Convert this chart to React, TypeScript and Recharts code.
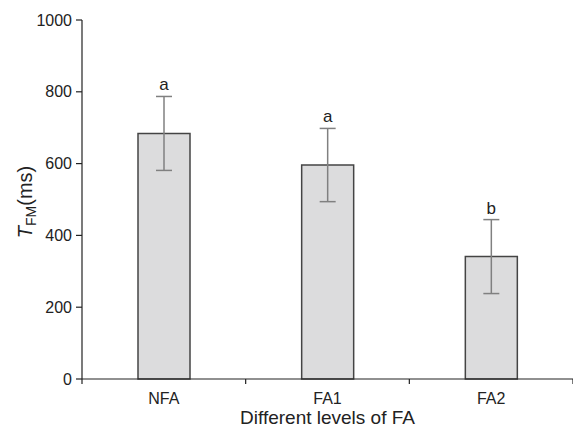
import React from "react";
import {
  BarChart,
  Bar,
  XAxis,
  YAxis,
  ErrorBar,
  LabelList,
} from "recharts";

const levels = ["NFA", "FA1", "FA2"];
const means = [684, 596, 341];
const errors = [103, 102, 103];
const letters = ["a", "a", "b"];
const yTicks = [0, 200, 400, 600, 800, 1000];

const WIDTH = 573;
const HEIGHT = 429;
const Y_AXIS_W = 82;
const BAND = (WIDTH - Y_AXIS_W) / levels.length;

const data = levels.map((level, i) => ({
  level,
  mean: means[i],
  err: errors[i],
}));

// category label in the middle, tick marks on the band edges
const LevelTick = (props: any) => {
  const { x, y, payload, index } = props;
  const last = index === levels.length - 1;
  return (
    <g>
      <line x1={x - BAND / 2} x2={x - BAND / 2} y1={y} y2={y + 5} stroke="#222" strokeWidth={1.2} />
      {last && (
        <line x1={x + BAND / 2} x2={x + BAND / 2} y1={y} y2={y + 5} stroke="#222" strokeWidth={1.2} />
      )}
      <text x={x} y={y + 25} textAnchor="middle" fontSize={16} fill="#222">
        {payload.value}
      </text>
    </g>
  );
};

// significance letter sits above the error bar cap
const Letter = (props: any) => {
  const { x, y, width, height, value, index } = props;
  const perUnit = height / value;
  const top = y - errors[index] * perUnit;
  return (
    <text x={x + width / 2} y={top - 6} textAnchor="middle" fontSize={17} fill="#222">
      {letters[index]}
    </text>
  );
};

const YLabel = () => (
  <text
    x={32}
    y={202}
    transform="rotate(-90, 32, 202)"
    textAnchor="middle"
    fontSize={20}
    fill="#222"
  >
    <tspan fontStyle="italic">T</tspan>
    <tspan fontSize={14} dy={4}>FM</tspan>
    <tspan dy={-4}>(ms)</tspan>
  </text>
);

export default function App() {
  return (
    <div
      style={{
        position: "absolute",
        left: 0,
        top: 0,
        width: WIDTH,
        height: HEIGHT,
        background: "#fff",
        fontFamily: "'Liberation Sans', Arial, sans-serif",
      }}
    >
      <BarChart
        width={WIDTH}
        height={HEIGHT}
        data={data}
        margin={{ top: 20, right: 0, left: 0, bottom: 0 }}
      >
        <XAxis
          dataKey="level"
          height={50}
          tickLine={false}
          tickSize={0}
          tickMargin={0}
          tick={<LevelTick />}
          axisLine={{ stroke: "#222", strokeWidth: 1.2 }}
          label={{
            value: "Different levels of FA",
            position: "insideBottom",
            offset: 5,
            fontSize: 19,
            fill: "#222",
          }}
        />
        <YAxis
          width={Y_AXIS_W}
          domain={[0, 1000]}
          ticks={yTicks}
          interval={0}
          tickSize={6}
          tickMargin={4}
          tick={{ fontSize: 16, fill: "#222" }}
          tickLine={{ stroke: "#222", strokeWidth: 1.2 }}
          axisLine={{ stroke: "#222", strokeWidth: 1.2 }}
          label={<YLabel />}
        />
        <Bar
          dataKey="mean"
          barSize={52}
          fill="#dcdcdd"
          stroke="#444"
          strokeWidth={1.5}
          isAnimationActive={false}
        >
          <ErrorBar dataKey="err" width={8} stroke="#808080" strokeWidth={1.5} />
          <LabelList dataKey="mean" content={<Letter />} />
        </Bar>
      </BarChart>
    </div>
  );
}
